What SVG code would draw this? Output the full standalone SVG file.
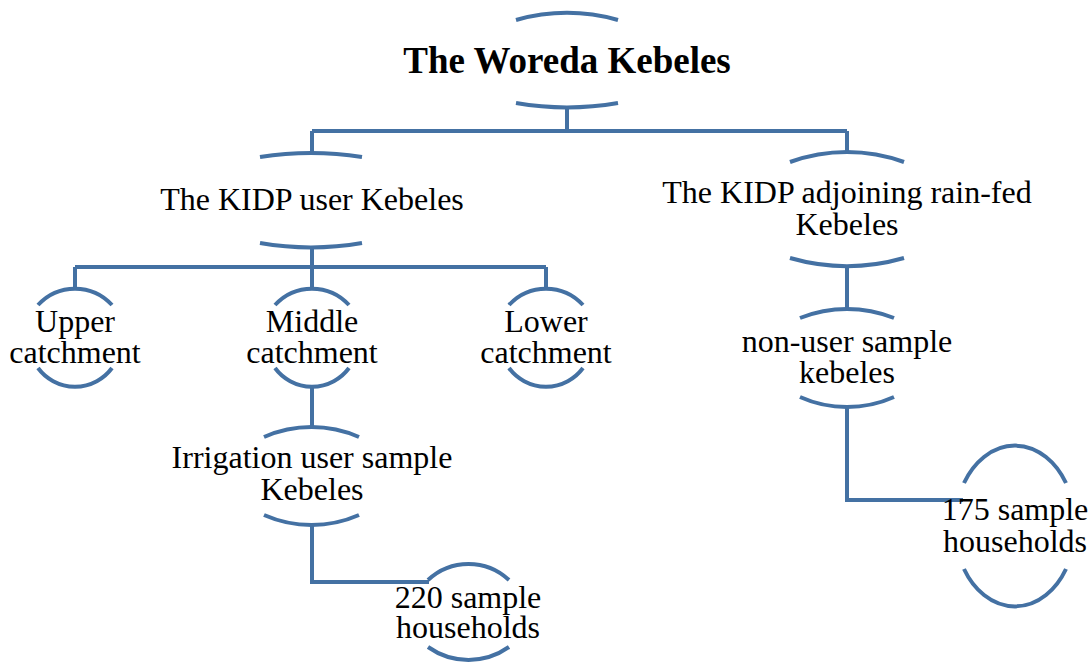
<svg xmlns="http://www.w3.org/2000/svg" width="1090" height="664" viewBox="0 0 1090 664">
<style>
.arc{fill:none;stroke:#4471A3;stroke-width:4}
.con{fill:none;stroke:#4471A3;stroke-width:4;stroke-linejoin:miter;stroke-linecap:butt}
text{font-family:"Liberation Serif","Times New Roman",serif;font-size:32px;fill:#000;text-anchor:middle}
.title{font-size:37px;font-weight:bold}
</style>
<rect width="1090" height="664" fill="#fff"/>
<g id="connectors">
<path class="con" d="M567 107 V131 M312 131 H847 M312 131 V153 M847 131 V152"/>
<path class="con" d="M312 247 V267 M75 267 H546 M75 267 V289 M312 267 V289 M546 267 V289"/>
<path class="con" d="M312 388 V427"/>
<path class="con" d="M312 525 V582 H429"/>
<path class="con" d="M847 266 V309"/>
<path class="con" d="M847 407 V500 H963"/>
</g>
<g id="node-woreda">
<path class="arc" d="M516 20 A189 189 0 0 1 618 20"/>
<path class="arc" d="M516 103 A300 300 0 0 0 618 103"/>
<text class="title" x="567" y="73">The Woreda Kebeles</text>
</g>
<g id="node-user">
<path class="arc" d="M260 157 A327 327 0 0 1 362 157"/>
<path class="arc" d="M260 243 A300 300 0 0 0 362 243"/>
<text x="312" y="210">The KIDP user Kebeles</text>
</g>
<g id="node-adjoining">
<path class="arc" d="M790 162 A167 167 0 0 1 904 162"/>
<path class="arc" d="M790 258 A207 207 0 0 0 904 258"/>
<text x="847" y="203">The KIDP adjoining rain-fed</text>
<text x="847" y="235">Kebeles</text>
</g>
<g id="node-upper">
<path class="arc" d="M38 305 A50 50 0 0 1 112 305"/>
<path class="arc" d="M38 368 A46 46 0 0 0 112 368"/>
<text x="75" y="332">Upper</text>
<text x="75" y="363">catchment</text>
</g>
<g id="node-middle">
<path class="arc" d="M275 305 A50 50 0 0 1 349 305"/>
<path class="arc" d="M275 368 A46 46 0 0 0 349 368"/>
<text x="312" y="332">Middle</text>
<text x="312" y="363">catchment</text>
</g>
<g id="node-lower">
<path class="arc" d="M509 305 A50 50 0 0 1 583 305"/>
<path class="arc" d="M509 368 A46 46 0 0 0 583 368"/>
<text x="546" y="332">Lower</text>
<text x="546" y="363">catchment</text>
</g>
<g id="node-nonuser">
<path class="arc" d="M800 318 A127 127 0 0 1 894 318"/>
<path class="arc" d="M800 397 A115 115 0 0 0 894 397"/>
<text x="847" y="352">non-user sample</text>
<text x="847" y="383">kebeles</text>
</g>
<g id="node-irrigation">
<path class="arc" d="M264 437 A118 118 0 0 1 359 437"/>
<path class="arc" d="M264 515 A118 118 0 0 0 359 515"/>
<text x="312" y="468">Irrigation user sample</text>
<text x="312" y="500">Kebeles</text>
</g>
<g id="node-220">
<path class="arc" d="M428 580 A59 59 0 0 1 509 580"/>
<path class="arc" d="M428 647 A70 70 0 0 0 509 647"/>
<text x="468" y="608">220 sample</text>
<text x="468" y="638">households</text>
</g>
<g id="node-175">
<path class="arc" d="M964 483 A60 79 0 0 1 1066 483"/>
<path class="arc" d="M964 569 A60 79 0 0 0 1066 569"/>
<text x="1015" y="520">175 sample</text>
<text x="1015" y="552">households</text>
</g>
</svg>
